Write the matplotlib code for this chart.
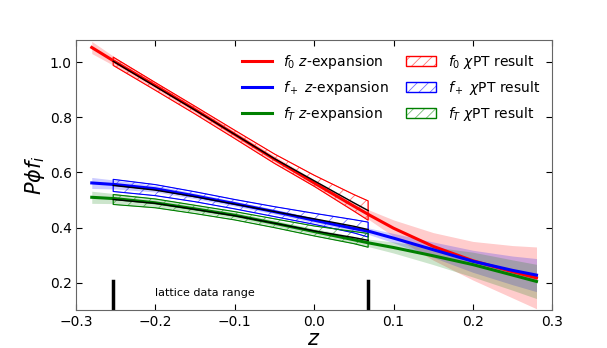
import matplotlib
matplotlib.use('Agg')
import matplotlib.pyplot as plt
from matplotlib.patches import Patch
from matplotlib.legend_handler import HandlerTuple
from matplotlib.colors import to_rgba
import numpy as np

# z-expansion results (central value and half-width)
z = [-0.28, -0.25, -0.2, -0.15, -0.1, -0.05, 0.0, 0.05, 0.07, 0.1, 0.15, 0.2, 0.25, 0.28]
f0 = [1.053, 1.0, 0.915, 0.828, 0.738, 0.648, 0.562, 0.478, 0.445, 0.398, 0.332, 0.28, 0.24, 0.218]
f0_err = [0.022, 0.016, 0.013, 0.012, 0.012, 0.012, 0.012, 0.015, 0.018, 0.03, 0.05, 0.07, 0.095, 0.112]
fp = [0.562, 0.556, 0.541, 0.515, 0.487, 0.458, 0.427, 0.397, 0.386, 0.362, 0.32, 0.278, 0.245, 0.228]
fp_err = [0.02, 0.016, 0.012, 0.01, 0.009, 0.009, 0.009, 0.01, 0.012, 0.017, 0.028, 0.04, 0.052, 0.06]
fT = [0.51, 0.505, 0.49, 0.468, 0.445, 0.416, 0.386, 0.356, 0.344, 0.328, 0.298, 0.266, 0.228, 0.205]
fT_err = [0.022, 0.018, 0.014, 0.012, 0.011, 0.011, 0.011, 0.012, 0.014, 0.02, 0.032, 0.045, 0.055, 0.062]

# chiPT results over the lattice data range
zc = [-0.253, -0.2, -0.15, -0.1, -0.05, 0.0, 0.05, 0.068]
f0c = [1.003, 0.912, 0.826, 0.738, 0.65, 0.57, 0.49, 0.462]
f0c_err = [0.015, 0.014, 0.014, 0.015, 0.017, 0.02, 0.03, 0.035]
fpc = [0.553, 0.536, 0.512, 0.485, 0.458, 0.432, 0.405, 0.393]
fpc_err = [0.022, 0.02, 0.018, 0.017, 0.018, 0.02, 0.024, 0.027]
fTc = [0.502, 0.488, 0.466, 0.443, 0.416, 0.388, 0.364, 0.354]
fTc_err = [0.018, 0.016, 0.015, 0.015, 0.016, 0.018, 0.022, 0.025]

lattice_range = [-0.253, 0.068]

plt.rcParams['hatch.linewidth'] = 0.6

fig, ax = plt.subplots(figsize=(6.07, 3.48), dpi=100)
fig.subplots_adjust(left=0.125, right=0.91, bottom=0.108, top=0.885)

z = np.array(z)
zc = np.array(zc)
series = [
    ('red', r'$f_0$', f0, f0_err, f0c, f0c_err),
    ('blue', r'$f_+$', fp, fp_err, fpc, fpc_err),
    ('green', r'$f_T$', fT, fT_err, fTc, fTc_err),
]

line_handles = []
hatch_handles = []
labels_l = []
labels_h = []
for col, name, c, e, cc, ce in series:
    c = np.array(c); e = np.array(e); cc = np.array(cc); ce = np.array(ce)
    ax.fill_between(z, c - e, c + e, color=col, alpha=0.2, lw=0)
    h, = ax.plot(z, c, color=col, lw=2.2)
    line_handles.append(h)
    labels_l.append(name + r' $z$-expansion')
    light = to_rgba(col, 0.55)
    ax.fill_between(zc, cc - ce, cc + ce, facecolor='none', edgecolor=light,
                    hatch='//', lw=0.5)
    ax.fill_between(zc, cc - ce, cc + ce, facecolor='none', edgecolor=col, lw=0.8)
    ax.plot(zc, cc, color='black', lw=1)
    hatch_handles.append((Patch(facecolor='none', edgecolor=light, hatch='///', lw=0.5),
                          Patch(facecolor='none', edgecolor=col, lw=1)))
    labels_h.append(name + r' $\chi$PT result')

for xv in lattice_range:
    ax.plot([xv, xv], [0.1, 0.205], color='black', lw=2.5)
ax.text(-0.2, 0.163, 'lattice data range', fontsize=8, va='center')

ax.set_xlim(-0.3, 0.3)
ax.set_ylim(0.1, 1.08)
ax.set_xticks([-0.3, -0.2, -0.1, 0.0, 0.1, 0.2, 0.3])
ax.set_yticks([0.2, 0.4, 0.6, 0.8, 1.0])
ax.tick_params(direction='in', top=True, right=True, labelsize=10, length=4, pad=3)
for s in ax.spines.values():
    s.set_color('0.4')
ax.set_xlabel(r'$z$', fontsize=15, labelpad=0)
ax.set_ylabel(r'$P\phi f_i$', fontsize=15, labelpad=2)

ax.legend(line_handles + hatch_handles, labels_l + labels_h,
          handler_map={tuple: HandlerTuple(ndivide=1, pad=0)},
          ncol=2, loc='upper right', frameon=False, fontsize=10,
          handlelength=2.2, columnspacing=1.2, labelspacing=0.6)

fig.savefig('out.png', dpi=100)
